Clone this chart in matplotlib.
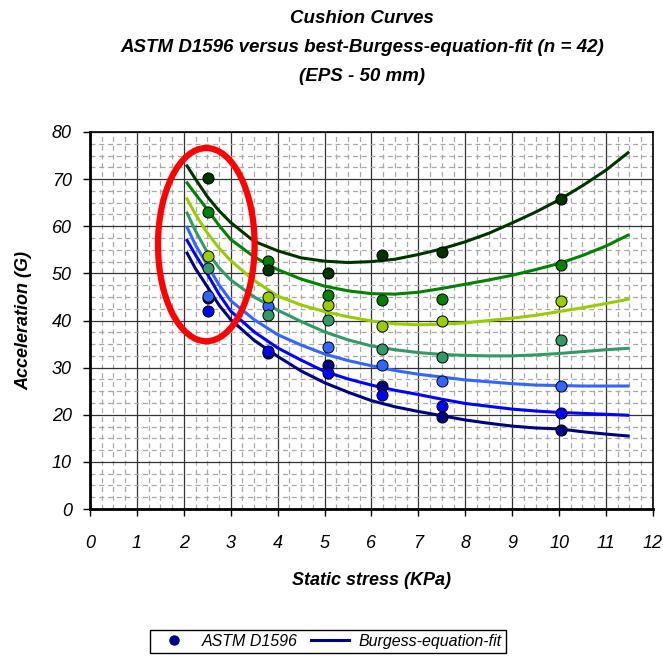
import numpy as np
import matplotlib
matplotlib.use("Agg")
import matplotlib.pyplot as plt
from matplotlib.patches import Ellipse
from matplotlib.lines import Line2D
from matplotlib import font_manager

installed = {f.name for f in font_manager.fontManager.ttflist}
narrow = 'Liberation Sans Narrow' if 'Liberation Sans Narrow' in installed else 'Liberation Sans'
plt.rcParams['font.family'] = [narrow, 'DejaVu Sans']

# measured test points (static stress in KPa, acceleration in G)
stress = [2.51, 3.80, 5.07, 6.23, 7.51, 10.05]
astm_navy = [44.7, 33.2, 30.6, 26.0, 19.6, 16.8]
astm_blue = [42.0, 33.6, 28.8, 24.1, 21.9, 20.3]
astm_lightblue = [45.3, 43.0, 34.3, 30.6, 27.1, 26.2]
astm_seagreen = [51.2, 41.2, 40.1, 34.0, 32.2, 35.9]
astm_lime = [53.6, 45.0, 43.2, 38.9, 39.8, 44.2]
astm_green = [63.1, 52.7, 45.4, 44.4, 44.6, 51.8]
astm_darkgreen = [70.2, 50.7, 50.0, 53.9, 54.6, 65.8]

# fitted curves, sampled along the stress axis
fit_x = [2.07, 2.25, 2.5, 2.75, 3.0, 3.5, 4.0, 4.5, 5.0, 5.5, 6.0,
         6.5, 7.0, 7.5, 8.0, 8.5, 9.0, 9.5, 10.0, 10.5, 11.0, 11.47]
fit_navy = [54.3, 51.0, 47.2, 43.3, 40.2, 35.8, 32.4, 29.3, 26.8, 24.8, 23.0,
            21.7, 20.7, 19.8, 18.9, 18.2, 17.6, 17.2, 17.0, 16.4, 15.9, 15.5]
fit_blue = [57.0, 53.9, 49.9, 45.6, 42.0, 37.6, 34.2, 31.6, 29.2, 27.6, 26.3,
            25.2, 24.3, 23.3, 22.4, 21.8, 21.2, 20.8, 20.5, 20.3, 20.1, 19.9]
fit_lightblue = [59.8, 56.0, 51.8, 47.6, 44.2, 40.2, 37.0, 34.8, 32.9, 31.5, 30.4,
                 29.4, 28.6, 28.0, 27.4, 27.0, 26.6, 26.3, 26.2, 26.1, 26.1, 26.1]
fit_seagreen = [62.8, 59.0, 54.5, 51.2, 48.6, 45.0, 42.2, 39.8, 37.6, 35.9, 34.6,
                33.8, 33.2, 32.8, 32.6, 32.5, 32.5, 32.7, 33.0, 33.4, 33.8, 34.1]
fit_lime = [65.8, 62.5, 58.6, 55.4, 52.7, 48.5, 45.2, 43.3, 41.9, 40.8, 39.9,
            39.3, 39.1, 39.2, 39.5, 40.0, 40.5, 41.1, 41.9, 42.7, 43.6, 44.5]
fit_green = [69.2, 66.8, 63.6, 60.2, 57.2, 53.5, 50.8, 48.8, 47.3, 46.3, 45.7,
             45.6, 46.0, 46.8, 47.7, 48.6, 49.6, 50.8, 52.1, 53.8, 55.8, 58.1]
fit_darkgreen = [72.8, 70.0, 66.3, 63.3, 60.8, 56.8, 54.8, 53.3, 52.6, 52.3, 52.5,
                 53.0, 54.0, 55.2, 56.7, 58.5, 60.7, 63.0, 65.6, 68.6, 71.9, 75.6]

series = [
    ('#000080', astm_navy, fit_navy),
    ('#0000FF', astm_blue, fit_blue),
    ('#3366FF', astm_lightblue, fit_lightblue),
    ('#339966', astm_seagreen, fit_seagreen),
    ('#99CC00', astm_lime, fit_lime),
    ('#008000', astm_green, fit_green),
    ('#003300', astm_darkgreen, fit_darkgreen),
]

title_lines = ['Cushion Curves',
               'ASTM D1596 versus best-Burgess-equation-fit (n = 42)',
               '(EPS - 50 mm)']

fig = plt.figure(figsize=(6.63, 6.58), dpi=100)
ax = fig.add_axes([0.1357, 0.2264, 0.849, 0.5730])

for color, pts, fit in series:
    ax.plot(fit_x, fit, color=color, lw=2.2, zorder=3)
for color, pts, fit in series:
    ax.plot(stress, pts, 'o', color=color, markersize=8,
            markeredgecolor='black', markeredgewidth=0.7, zorder=4)

# highlight of the low-stress region
ax.add_patch(Ellipse((2.48, 56.1), 2.06, 41.0, fill=False,
                     edgecolor='#FF0000', lw=4.5, zorder=5))

ax.set_xlim(0, 12)
ax.set_ylim(0, 80)
ax.set_xticks(np.arange(0, 13, 1))
ax.set_yticks(np.arange(0, 81, 10))
ax.set_xticks(np.arange(0, 12.01, 0.25), minor=True)
ax.set_yticks(np.arange(0, 80.01, 2.5), minor=True)
ax.set_axisbelow(True)
ax.grid(which='minor', color='#a8a8a8', lw=0.9, ls=(0, (4, 3)))
ax.grid(which='major', color='#333333', lw=0.9, ls='-')
ax.tick_params(which='minor', length=0)
ax.tick_params(which='major', direction='out', length=5, width=1,
               labelsize=13, pad=8)
for lab in ax.get_xticklabels() + ax.get_yticklabels():
    lab.set_fontstyle('italic')
ax.tick_params(axis='x', pad=14)

for side in ['top', 'right']:
    ax.spines[side].set_linewidth(1.2)
for side in ['left', 'bottom']:
    ax.spines[side].set_linewidth(2.0)

ax.set_xlabel('Static stress (KPa)', fontsize=13, fontweight='bold',
              fontstyle='italic', labelpad=14)
ax.set_ylabel('Acceleration (G)', fontsize=13, fontweight='bold',
              fontstyle='italic', labelpad=14)

for i, line in enumerate(title_lines):
    fig.text(0.546, 0.9726 - i * 0.0448, line, ha='center', va='center',
             fontsize=13.5, fontweight='bold', fontstyle='italic')

handles = [Line2D([], [], ls='none', marker='o', color='#000080',
                  markersize=6.5),
           Line2D([], [], color='#000080', lw=2.2)]
fig.legend(handles, ['ASTM D1596', 'Burgess-equation-fit'],
           loc='upper center', bbox_to_anchor=(0.495, 0.0425), ncol=2,
           frameon=True, fancybox=False, edgecolor='black', framealpha=1,
           prop={'style': 'italic', 'size': 11.5}, handlelength=2.4,
           handletextpad=0.6, columnspacing=0.8, borderpad=0.25,
           borderaxespad=0)

fig.savefig('out.png', dpi=100)
